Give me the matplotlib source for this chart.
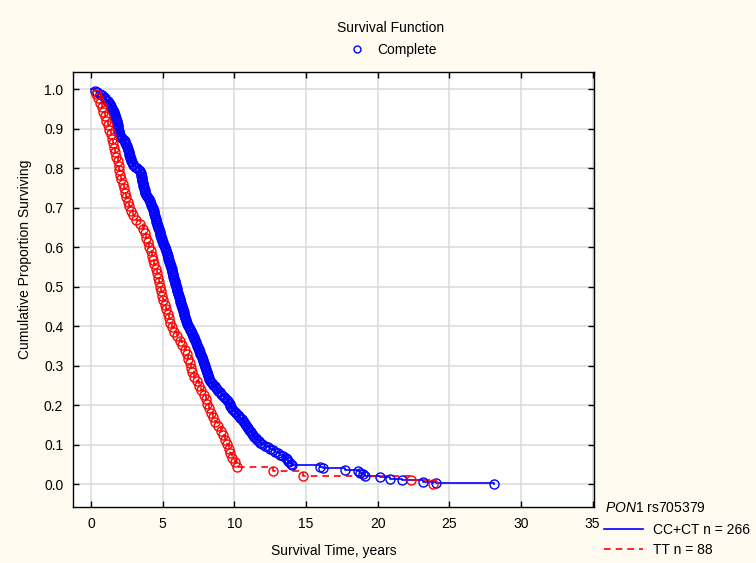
import numpy as np
import matplotlib
matplotlib.use("Agg")
import matplotlib.pyplot as plt
from matplotlib.lines import Line2D

plt.rcParams['font.family'] = ['Liberation Sans', 'DejaVu Sans']
plt.rcParams['mathtext.fontset'] = 'custom'
plt.rcParams['mathtext.it'] = 'Liberation Sans:italic'
plt.rcParams['mathtext.rm'] = 'Liberation Sans'

# event times (years), all complete (no censoring)
times_cc_ct = [
    0.28, 0.45, 0.62, 0.80, 0.92, 1.00, 1.08, 1.16, 1.25, 1.31,
    1.37, 1.43, 1.49, 1.55, 1.59, 1.62, 1.66, 1.69, 1.72, 1.75,
    1.79, 1.81, 1.83, 1.86, 1.88, 1.90, 1.92, 1.95, 1.97, 1.99,
    2.02, 2.10, 2.19, 2.28, 2.36, 2.41, 2.46, 2.50, 2.55, 2.60,
    2.62, 2.64, 2.67, 2.69, 2.71, 2.75, 2.79, 2.83, 2.87, 2.91,
    2.95, 3.08, 3.24, 3.34, 3.40, 3.46, 3.49, 3.51, 3.53, 3.55,
    3.57, 3.59, 3.61, 3.64, 3.66, 3.69, 3.72, 3.74, 3.77, 3.80,
    3.86, 3.92, 3.98, 4.04, 4.09, 4.13, 4.18, 4.22, 4.26, 4.31,
    4.35, 4.38, 4.40, 4.43, 4.46, 4.48, 4.51, 4.53, 4.56, 4.60,
    4.63, 4.67, 4.70, 4.73, 4.77, 4.80, 4.83, 4.85, 4.88, 4.90,
    4.93, 4.95, 5.00, 5.06, 5.11, 5.16, 5.19, 5.22, 5.26, 5.29,
    5.32, 5.35, 5.38, 5.41, 5.44, 5.47, 5.50, 5.54, 5.57, 5.60,
    5.63, 5.66, 5.68, 5.71, 5.74, 5.76, 5.79, 5.82, 5.84, 5.87,
    5.90, 5.92, 5.95, 5.98, 6.01, 6.04, 6.07, 6.10, 6.13, 6.16,
    6.19, 6.22, 6.25, 6.27, 6.30, 6.33, 6.36, 6.39, 6.43, 6.46,
    6.49, 6.52, 6.55, 6.58, 6.62, 6.65, 6.68, 6.73, 6.78, 6.83,
    6.88, 6.93, 6.98, 7.03, 7.07, 7.12, 7.17, 7.22, 7.26, 7.30,
    7.34, 7.38, 7.43, 7.47, 7.51, 7.55, 7.59, 7.64, 7.68, 7.72,
    7.76, 7.79, 7.83, 7.87, 7.90, 7.94, 7.98, 8.01, 8.05, 8.09,
    8.12, 8.16, 8.19, 8.23, 8.27, 8.30, 8.38, 8.46, 8.55, 8.63,
    8.71, 8.80, 8.88, 8.98, 9.08, 9.18, 9.27, 9.37, 9.47, 9.54,
    9.60, 9.67, 9.73, 9.80, 9.86, 9.93, 10.03, 10.13, 10.23, 10.33,
    10.43, 10.53, 10.63, 10.69, 10.76, 10.82, 10.89, 10.95, 11.02, 11.08,
    11.15, 11.21, 11.30, 11.40, 11.50, 11.60, 11.70, 11.80, 11.92, 12.15,
    12.35, 12.50, 12.68, 12.86, 13.04, 13.22, 13.40, 13.58, 13.68, 13.77,
    13.85, 13.93, 14.00, 16.00, 16.20, 17.70, 18.65, 18.78, 19.00, 19.12,
    20.20, 20.90, 21.70, 23.20, 24.10, 28.10,
]

times_tt = [
    0.35, 0.52, 0.63, 0.75, 0.86, 0.96, 1.06, 1.18, 1.29, 1.42,
    1.50, 1.56, 1.61, 1.66, 1.76, 1.87, 1.93, 1.98, 2.05, 2.13,
    2.21, 2.28, 2.36, 2.46, 2.56, 2.67, 2.77, 2.92, 3.15, 3.40,
    3.60, 3.76, 3.86, 3.96, 4.06, 4.16, 4.26, 4.35, 4.43, 4.51,
    4.59, 4.67, 4.74, 4.81, 4.89, 4.97, 5.06, 5.16, 5.26, 5.35,
    5.44, 5.54, 5.63, 5.82, 6.02, 6.22, 6.38, 6.54, 6.69, 6.78,
    6.88, 6.97, 7.07, 7.22, 7.38, 7.54, 7.70, 7.86, 8.00, 8.12,
    8.24, 8.36, 8.52, 8.68, 8.85, 9.05, 9.25, 9.37, 9.49, 9.62,
    9.72, 9.82, 10.08, 10.20, 12.70, 14.80, 22.30, 23.90,
]

labels = ['CC+CT n = 266', 'TT n = 88']
colors = ['#0000ff', '#ff0000']
styles = ['-', (0, (4, 3))]

x_ticks = np.arange(0, 36, 5)
y_ticks = np.round(np.arange(0, 1.01, 0.1), 1)


def km_curve(times):
    t = np.sort(np.array(times))
    n = len(t)
    s = (n - np.arange(1, n + 1)) / n
    return t, s


bg = '#fffbf0'
fig = plt.figure(figsize=(7.56, 5.63), dpi=100, facecolor=bg)
ax = fig.add_axes([73 / 756, 1 - 507 / 563, (594 - 73) / 756, (507 - 72) / 563])
ax.set_facecolor('white')

for times, c, ls in zip([times_cc_ct, times_tt], colors, styles):
    t, s = km_curve(times)
    ax.plot(np.r_[0, t], np.r_[1, s], drawstyle='steps-post', color=c,
            linestyle=ls, linewidth=1.2, zorder=3)
    ax.plot(t, s, 'o', mfc='none', mec=c, mew=1.0, ms=6.5, zorder=4)

ax.set_xlim(-1.25, 35.1)
ax.set_ylim(-0.057, 1.044)
ax.set_xticks(x_ticks)
ax.set_yticks(y_ticks)
ax.set_yticklabels([f'{v:.1f}' for v in y_ticks])
ax.grid(True, color='#dadada', linewidth=1.1)
ax.set_axisbelow(True)
ax.tick_params(direction='in', length=4, width=1, top=True, right=True,
               labelsize=10, pad=7, colors='black')
for sp in ax.spines.values():
    sp.set_linewidth(1.0)
    sp.set_color('black')

fig.text(391 / 756, 1 - 28 / 563, 'Survival Function', ha='center', va='center', fontsize=10)
fig.legend(handles=[Line2D([], [], marker='o', ls='none', mfc='none', mec='#0000ff', ms=5)],
           labels=['Complete'], loc='center', bbox_to_anchor=(390 / 756, 1 - 50 / 563),
           frameon=False, fontsize=10, handletextpad=0.4)

fig.text(25 / 756, 1 - 259 / 563, 'Cumulative Proportion Surviving', rotation=90,
         ha='center', va='center', fontsize=10)
fig.text(334 / 756, 1 - 551 / 563, 'Survival Time, years', ha='center', va='center', fontsize=10)

# legend box at lower right, outside the axes
fig.text(605 / 756, 1 - 508 / 563, '$PON1$ rs705379', ha='left', va='center', fontsize=10)
handles = [Line2D([], [], color=c, linestyle=ls, linewidth=1.2) for c, ls in zip(colors, styles)]
fig.legend(handles=handles, labels=labels, loc='center left',
           bbox_to_anchor=(604 / 756, 1 - 540 / 563), frameon=False, fontsize=10,
           handlelength=2.8, handletextpad=0.7, labelspacing=0.45,
           borderaxespad=0, borderpad=0)

fig.savefig('out.png', dpi=100, facecolor=bg)
